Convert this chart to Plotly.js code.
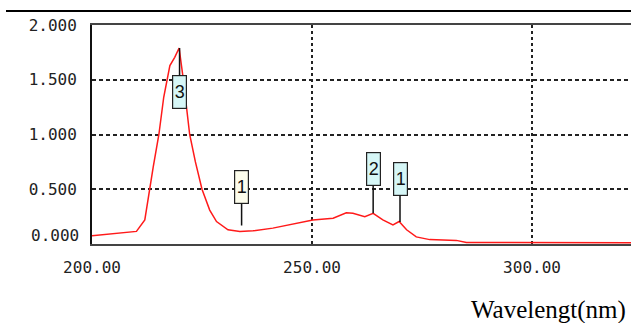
<!DOCTYPE html>
<html>
<head>
<meta charset="utf-8">
<script src="https://cdn.plot.ly/plotly-3.0.1.min.js"></script>
<style>
html,body{margin:0;padding:0;background:#fff;}
#chart{width:631px;height:323px;}
</style>
</head>
<body>
<div id="chart"></div>
<script>
// ---- data ----
var wavelength = [200, 203, 206.5, 210.1, 212, 213, 213.9, 215.2, 216.3, 217.7, 218.8, 219.8, 220.7, 222.2, 223.5, 225.0, 226.75, 228.3, 230.9, 233.6, 236.6, 241.1, 246.5, 250.2, 254.8, 257.8, 259.3, 262.0, 263.9, 266.1, 268.4, 269.8, 271.5, 273.7, 276.75, 282.8, 285.1, 300, 322.5];
var absorbance = [0.075, 0.085, 0.100, 0.115, 0.22, 0.49, 0.70, 1.00, 1.34, 1.63, 1.705, 1.79, 1.52, 1.00, 0.75, 0.50, 0.31, 0.205, 0.13, 0.115, 0.12, 0.145, 0.19, 0.22, 0.235, 0.285, 0.28, 0.25, 0.28, 0.22, 0.175, 0.205, 0.13, 0.065, 0.04, 0.033, 0.013, 0.012, 0.012];

var peakLabels = ['3', '1', '2', '1'];
var peakWl = [219.9, 234.0, 263.9, 270.0];
var peakAbs = [1.79, 0.115, 0.28, 0.20];

var xTickVals = [200, 250, 300];
var xTickLabels = ['200.00', '250.00', '300.00'];
var yTickVals = [0, 0.5, 1.0, 1.5, 2.0];
var yTickLabels = ['0.000', '0.500', '1.000', '1.500', '2.000'];
var xAxisLabel = 'Wavelengt(nm)';

// ---- styles ----
var boxFill = ['#d6f7f7', '#fdfdec', '#d6f7f7', '#d6f7f7'];
var boxOffset = [44, -44, -44, -43];
var boxStandoff = [0, 6, 0, 0];
var monoFont = {family: 'DejaVu Sans Mono', size: 16, color: '#222'};

var annotations = peakLabels.map(function (lab, i) {
  return {
    x: peakWl[i], y: peakAbs[i], xref: 'x', yref: 'y',
    text: lab, showarrow: true, arrowhead: 0, arrowwidth: 1.5, arrowcolor: '#111',
    ax: 0, ay: boxOffset[i], standoff: boxStandoff[i],
    bgcolor: boxFill[i], bordercolor: '#222', borderwidth: 1.2, borderpad: 0,
    width: 13, height: 32,
    font: {family: 'Liberation Sans', size: 18, color: '#111'}
  };
});
annotations.push({
  x: 0, y: yTickVals[0], xref: 'paper', yref: 'y', text: yTickLabels[0],
  showarrow: false, xanchor: 'right', yanchor: 'middle', xshift: -11, yshift: 9,
  font: monoFont
});
annotations.push({
  x: 1, y: 0, xref: 'paper', yref: 'paper', text: xAxisLabel,
  showarrow: false, xanchor: 'right', yanchor: 'middle', xshift: -3, yshift: -66,
  font: {family: 'Liberation Serif', size: 25, color: '#000'}
});
// decorative rule across the top of the figure
annotations.push({
  x: 0, y: 1, xref: 'paper', yref: 'paper', text: '&nbsp;',
  showarrow: false, xanchor: 'left', yanchor: 'middle', xshift: -86, yshift: 14,
  width: 625, height: 2, borderpad: 0, borderwidth: 0,
  bgcolor: '#000', font: {size: 2, color: '#000'}
});

var yText = yTickLabels.map(function (t, i) { return i === 0 ? '' : t; });

var trace = {
  x: wavelength, y: absorbance, type: 'scatter', mode: 'lines',
  line: {color: '#ff1a1a', width: 1.5}, hoverinfo: 'skip'
};

var layout = {
  width: 631, height: 323,
  margin: {l: 92, r: 0, t: 25, b: 79},
  paper_bgcolor: '#fff', plot_bgcolor: '#fff',
  showlegend: false,
  xaxis: {
    range: [200, 322.5], tickvals: xTickVals, ticktext: xTickLabels,
    showgrid: true, gridcolor: '#222', gridwidth: 2, griddash: '3px,3px',
    showline: true, linecolor: '#444', linewidth: 2, mirror: true,
    zeroline: false, ticks: '', ticklabelstandoff: 8, tickfont: monoFont
  },
  yaxis: {
    range: [0, 2], tickvals: yTickVals, ticktext: yText,
    showgrid: true, gridcolor: '#222', gridwidth: 2, griddash: '4px,3px',
    showline: true, linecolor: '#111', linewidth: 2, mirror: false,
    zeroline: false, ticks: '', ticklabelstandoff: 10, tickfont: monoFont
  },
  annotations: annotations
};

Plotly.newPlot('chart', [trace], layout, {staticPlot: true, displayModeBar: false});
</script>
</body>
</html>
